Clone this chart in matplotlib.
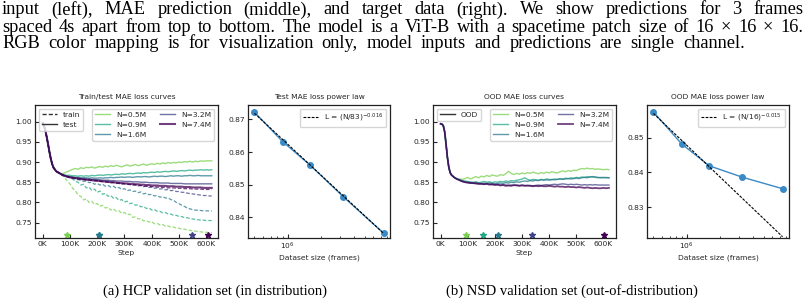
import matplotlib
matplotlib.use("Agg")
import matplotlib.pyplot as plt
import numpy as np
from matplotlib.ticker import NullFormatter, LogLocator
from matplotlib.lines import Line2D

# ---------------- data ----------------
steps_k = [0, 5, 10, 15, 20, 25, 30, 35, 40, 50, 60,
           70, 80, 90, 100, 110, 120, 130, 140, 150, 160, 170, 180, 190, 200,
           210, 220, 230, 240, 250, 260, 270, 280, 290, 300, 310, 320, 330, 340,
           350, 360, 370, 380, 390, 400, 410, 420, 430, 440, 450, 460, 470, 480,
           490, 500, 510, 520, 530, 540, 550, 560, 570, 580, 590, 600, 610, 620]

n_labels = ["N=0.5M", "N=0.9M", "N=1.6M", "N=3.2M", "N=7.4M"]
dataset_frames = [0.5e6, 0.9e6, 1.6e6, 3.2e6, 7.4e6]

early_id = [0.997, 0.990, 0.978, 0.962, 0.944, 0.925, 0.908, 0.895, 0.886, 0.877, 0.873]

test_05 = early_id + [
    0.871, 0.873, 0.876, 0.879, 0.882, 0.884, 0.882, 0.886, 0.884, 0.887, 0.886, 0.888, 0.885, 0.887,
    0.889, 0.887, 0.890, 0.888, 0.891, 0.889, 0.892, 0.890, 0.888, 0.891, 0.893, 0.890, 0.892, 0.894,
    0.891, 0.893, 0.895, 0.892, 0.894, 0.896, 0.894, 0.897, 0.895, 0.898, 0.896, 0.899, 0.897, 0.899,
    0.898, 0.900, 0.899, 0.901, 0.900, 0.902, 0.900, 0.902, 0.901, 0.903, 0.902, 0.903, 0.903, 0.903]
test_09 = early_id + [
    0.870, 0.868, 0.867, 0.867, 0.866, 0.866, 0.865, 0.866, 0.865, 0.866, 0.865, 0.867, 0.866, 0.867,
    0.868, 0.867, 0.868, 0.869, 0.868, 0.869, 0.870, 0.869, 0.871, 0.870, 0.871, 0.872, 0.871, 0.872,
    0.873, 0.872, 0.874, 0.873, 0.874, 0.875, 0.874, 0.876, 0.875, 0.876, 0.877, 0.876, 0.877, 0.878,
    0.877, 0.878, 0.879, 0.878, 0.879, 0.880, 0.879, 0.880, 0.880, 0.881, 0.880, 0.881, 0.880, 0.881]
test_16 = early_id + [
    0.869, 0.867, 0.865, 0.864, 0.863, 0.862, 0.862, 0.861, 0.861, 0.861, 0.860, 0.861, 0.860, 0.860,
    0.861, 0.860, 0.861, 0.861, 0.862, 0.861, 0.862, 0.862, 0.863, 0.862, 0.863, 0.863, 0.862, 0.863,
    0.864, 0.863, 0.864, 0.864, 0.863, 0.864, 0.865, 0.864, 0.865, 0.865, 0.864, 0.865, 0.866, 0.865,
    0.866, 0.866, 0.865, 0.866, 0.866, 0.867, 0.866, 0.866, 0.867, 0.866, 0.866, 0.866, 0.866, 0.866]
test_32 = early_id + [
    0.869, 0.866, 0.864, 0.863, 0.862, 0.861, 0.860, 0.859, 0.859, 0.858, 0.858, 0.857, 0.857, 0.856,
    0.856, 0.855, 0.855, 0.855, 0.854, 0.854, 0.853, 0.853, 0.853, 0.852, 0.852, 0.852, 0.851, 0.851,
    0.851, 0.850, 0.850, 0.850, 0.849, 0.849, 0.849, 0.849, 0.848, 0.848, 0.848, 0.848, 0.847, 0.847,
    0.847, 0.847, 0.847, 0.846, 0.846, 0.846, 0.846, 0.846, 0.846, 0.846, 0.846, 0.846, 0.846, 0.846]
test_74 = early_id + [
    0.869, 0.866, 0.864, 0.862, 0.861, 0.860, 0.859, 0.858, 0.857, 0.856, 0.856, 0.855, 0.854, 0.854,
    0.853, 0.852, 0.852, 0.851, 0.850, 0.850, 0.849, 0.848, 0.848, 0.847, 0.847, 0.846, 0.846, 0.845,
    0.845, 0.844, 0.844, 0.843, 0.843, 0.842, 0.842, 0.842, 0.841, 0.841, 0.841, 0.840, 0.840, 0.840,
    0.839, 0.839, 0.839, 0.838, 0.838, 0.838, 0.837, 0.837, 0.837, 0.837, 0.836, 0.836, 0.836, 0.836]

train_05 = early_id + [
    0.868, 0.862, 0.853, 0.846, 0.835, 0.829, 0.818, 0.815, 0.806, 0.809, 0.800, 0.803, 0.795, 0.797,
    0.790, 0.793, 0.786, 0.788, 0.781, 0.784, 0.778, 0.779, 0.773, 0.775, 0.769, 0.771, 0.763, 0.764,
    0.759, 0.760, 0.754, 0.755, 0.751, 0.752, 0.747, 0.748, 0.744, 0.745, 0.741, 0.742, 0.738, 0.739,
    0.736, 0.736, 0.733, 0.734, 0.731, 0.731, 0.729, 0.729, 0.727, 0.727, 0.726, 0.726, 0.725, 0.725]
train_09 = early_id + [
    0.869, 0.866, 0.864, 0.861, 0.858, 0.852, 0.850, 0.843, 0.845, 0.836, 0.838, 0.830, 0.833, 0.825,
    0.828, 0.820, 0.822, 0.815, 0.817, 0.810, 0.812, 0.805, 0.807, 0.801, 0.803, 0.797, 0.798, 0.793,
    0.794, 0.789, 0.790, 0.785, 0.786, 0.781, 0.782, 0.778, 0.778, 0.774, 0.775, 0.771, 0.771, 0.768,
    0.768, 0.765, 0.765, 0.762, 0.762, 0.760, 0.759, 0.758, 0.757, 0.756, 0.756, 0.755, 0.755, 0.755]
train_16 = early_id + [
    0.869, 0.866, 0.864, 0.862, 0.860, 0.858, 0.856, 0.855, 0.852, 0.853, 0.849, 0.850, 0.845, 0.847,
    0.843, 0.845, 0.840, 0.842, 0.838, 0.840, 0.835, 0.837, 0.832, 0.834, 0.829, 0.831, 0.827, 0.828,
    0.824, 0.826, 0.821, 0.823, 0.819, 0.820, 0.816, 0.817, 0.813, 0.814, 0.811, 0.811, 0.807, 0.805,
    0.800, 0.797, 0.793, 0.790, 0.786, 0.784, 0.782, 0.781, 0.780, 0.780, 0.779, 0.779, 0.779, 0.779]
train_32 = early_id + [
    0.869, 0.866, 0.864, 0.862, 0.861, 0.860, 0.859, 0.858, 0.857, 0.857, 0.856, 0.855, 0.855, 0.854,
    0.853, 0.853, 0.851, 0.852, 0.850, 0.850, 0.848, 0.849, 0.846, 0.847, 0.845, 0.845, 0.843, 0.844,
    0.841, 0.842, 0.839, 0.840, 0.837, 0.838, 0.835, 0.836, 0.833, 0.834, 0.831, 0.832, 0.829, 0.830,
    0.827, 0.827, 0.825, 0.825, 0.823, 0.822, 0.821, 0.820, 0.819, 0.818, 0.817, 0.817, 0.816, 0.816]
train_74 = early_id + [
    0.869, 0.866, 0.864, 0.862, 0.861, 0.860, 0.859, 0.858, 0.857, 0.856, 0.855, 0.855, 0.854, 0.853,
    0.852, 0.852, 0.851, 0.850, 0.849, 0.849, 0.848, 0.847, 0.846, 0.846, 0.845, 0.844, 0.844, 0.843,
    0.842, 0.842, 0.841, 0.840, 0.840, 0.839, 0.839, 0.838, 0.838, 0.837, 0.837, 0.836, 0.836, 0.836,
    0.835, 0.835, 0.835, 0.834, 0.834, 0.834, 0.833, 0.833, 0.833, 0.833, 0.832, 0.832, 0.832, 0.832]

early_ood = [0.995, 0.994, 0.990, 0.975, 0.945, 0.912, 0.888, 0.874, 0.868, 0.862, 0.858]

ood_05 = early_ood + [
    0.858, 0.857, 0.859, 0.862, 0.858, 0.861, 0.864, 0.861, 0.865, 0.863, 0.867, 0.864, 0.868, 0.866,
    0.865, 0.869, 0.867, 0.871, 0.877, 0.872, 0.869, 0.872, 0.870, 0.873, 0.871, 0.874, 0.872, 0.875,
    0.873, 0.871, 0.874, 0.872, 0.875, 0.873, 0.876, 0.874, 0.873, 0.876, 0.878, 0.876, 0.879, 0.877,
    0.880, 0.879, 0.882, 0.884, 0.883, 0.885, 0.883, 0.884, 0.882, 0.883, 0.882, 0.881, 0.882, 0.881]
ood_09 = early_ood + [
    0.856, 0.854, 0.853, 0.852, 0.851, 0.850, 0.851, 0.849, 0.850, 0.852, 0.850, 0.851, 0.849, 0.851,
    0.850, 0.852, 0.851, 0.853, 0.852, 0.854, 0.853, 0.855, 0.856, 0.858, 0.861, 0.857, 0.855, 0.857,
    0.856, 0.855, 0.857, 0.856, 0.858, 0.857, 0.856, 0.858, 0.857, 0.859, 0.858, 0.860, 0.859, 0.861,
    0.860, 0.862, 0.861, 0.863, 0.862, 0.864, 0.863, 0.863, 0.862, 0.861, 0.862, 0.861, 0.862, 0.861]
ood_16 = early_ood + [
    0.855, 0.853, 0.851, 0.850, 0.849, 0.848, 0.849, 0.848, 0.847, 0.848, 0.847, 0.848, 0.847, 0.846,
    0.847, 0.848, 0.847, 0.849, 0.848, 0.850, 0.849, 0.851, 0.850, 0.852, 0.853, 0.852, 0.854, 0.853,
    0.855, 0.854, 0.856, 0.855, 0.856, 0.855, 0.857, 0.856, 0.857, 0.858, 0.857, 0.858, 0.859, 0.858,
    0.859, 0.860, 0.859, 0.861, 0.862, 0.861, 0.863, 0.864, 0.863, 0.862, 0.861, 0.862, 0.861, 0.861]
ood_32 = early_ood + [
    0.855, 0.852, 0.850, 0.849, 0.848, 0.847, 0.847, 0.846, 0.846, 0.845, 0.846, 0.845, 0.844, 0.845,
    0.844, 0.843, 0.844, 0.843, 0.842, 0.843, 0.842, 0.843, 0.842, 0.843, 0.842, 0.841, 0.842, 0.841,
    0.842, 0.843, 0.842, 0.843, 0.844, 0.843, 0.844, 0.845, 0.844, 0.845, 0.846, 0.845, 0.844, 0.845,
    0.844, 0.845, 0.844, 0.843, 0.844, 0.843, 0.844, 0.843, 0.844, 0.843, 0.843, 0.843, 0.843, 0.843]
ood_74 = early_ood + [
    0.855, 0.852, 0.850, 0.849, 0.848, 0.848, 0.847, 0.846, 0.846, 0.845, 0.846, 0.844, 0.845, 0.843,
    0.844, 0.842, 0.843, 0.841, 0.842, 0.841, 0.843, 0.842, 0.841, 0.842, 0.841, 0.842, 0.841, 0.840,
    0.841, 0.840, 0.841, 0.840, 0.840, 0.841, 0.840, 0.839, 0.840, 0.839, 0.839, 0.838, 0.839, 0.838,
    0.838, 0.837, 0.838, 0.837, 0.836, 0.837, 0.836, 0.835, 0.836, 0.835, 0.835, 0.836, 0.835, 0.836]

best_step_id_k = [91, 206, 206, 549, 606]
best_step_ood_k = [93, 155, 212, 337, 600]

final_test = [0.8722, 0.8632, 0.8560, 0.8463, 0.8352]
final_ood = [0.8574, 0.8482, 0.8419, 0.8386, 0.8353]
ood_fit_points = 3

xtick_vals_k = [0, 100, 200, 300, 400, 500, 600]
xtick_labels = ["0K", "100K", "200K", "300K", "400K", "500K", "600K"]

titles = ["Train/test MAE loss curves", "Test MAE loss power law",
          "OOD MAE loss curves", "OOD MAE loss power law"]
fit_labels = [r"L = (N/83)$^{-0.016}$", r"L = (N/16)$^{-0.015}$"]

top_lines = [
    "input (left), MAE prediction (middle), and target data (right).  We show predictions for 3 frames",
    "spaced 4s apart from top to bottom. The model is a ViT-B with a spacetime patch size of 16 \u00d7 16 \u00d7 16.",
    "RGB color mapping is for visualization only, model inputs and predictions are single channel.",
]
captions = ["(a) HCP validation set (in distribution)",
            "(b) NSD validation set (out-of-distribution)"]

# ---------------- style ----------------
W, H = 807, 307
plt.rcParams['font.family'] = ['DejaVu Sans']
plt.rcParams['mathtext.fontset'] = 'dejavusans'
FS = 5.4
TXT = '#262626'
fig = plt.figure(figsize=(W / 100, H / 100), dpi=100)

cmap = plt.get_cmap('viridis')
colors = [cmap(v) for v in [0.8, 0.6, 0.4, 0.2, 0.0]]
ALPHA = 0.75

def px_axes(l, r, t, b):
    return fig.add_axes([l / W, 1 - b / H, (r - l) / W, (b - t) / H])

def style(ax):
    ax.tick_params(which='both', direction='in', labelsize=FS, colors=TXT, pad=2)
    ax.tick_params(which='major', length=3, width=0.8)
    ax.tick_params(which='minor', length=1.8, width=0.6)
    for s in ax.spines.values():
        s.set_linewidth(0.9)
        s.set_color('#222222')

ax1 = px_axes(35, 218, 105, 238)
ax2 = px_axes(248, 390, 105, 238)
ax3 = px_axes(433, 616, 105, 238)
ax4 = px_axes(647, 789, 105, 238)

steps = np.array(steps_k)
tests = [test_05, test_09, test_16, test_32, test_74]
trains = [train_05, train_09, train_16, train_32, train_74]
oods = [ood_05, ood_09, ood_16, ood_32, ood_74]
STAR_Y = 0.72

# panel 1
handles = []
for i in range(5):
    lw = 1.5 if i == 4 else 1.0
    ax1.plot(steps, trains[i], '--', color=colors[i], lw=0.9, alpha=ALPHA, dashes=(3, 1.5))
    h, = ax1.plot(steps, tests[i], '-', color=colors[i], lw=lw, alpha=ALPHA, label=n_labels[i])
    handles.append(h)
    ax1.plot([best_step_id_k[i]], [STAR_Y], marker='*', ms=5, color=colors[i], ls='none')
# panel 3
handles3 = []
for i in range(5):
    lw = 1.3 if i == 4 else 1.0
    h, = ax3.plot(steps, oods[i], '-', color=colors[i], lw=lw, alpha=ALPHA, label=n_labels[i])
    handles3.append(h)
    ax3.plot([best_step_ood_k[i]], [STAR_Y], marker='*', ms=5, color=colors[i], ls='none')

for ax, hs, typelabels in [(ax1, handles, [('--', 'train'), ('-', 'test')]),
                           (ax3, handles3, [('-', 'OOD')])]:
    ax.set_xlim(-28, 643 if ax is ax1 else 646)
    ax.set_ylim(0.7117, 1.0415)
    ax.set_yticks([0.75, 0.80, 0.85, 0.90, 0.95, 1.00])
    ax.set_yticklabels(["0.75", "0.80", "0.85", "0.90", "0.95", "1.00"])
    ax.set_xticks(xtick_vals_k)
    ax.set_xticklabels(xtick_labels)
    ax.set_xlabel("Step", fontsize=FS, color=TXT, labelpad=2)
    style(ax)
    tl = [Line2D([], [], color='#333333', ls=ls, lw=1.0,
                 dashes=(3, 1.5) if ls == '--' else (None, None)) for ls, _ in typelabels]
    leg1 = ax.legend(tl, [t for _, t in typelabels], loc='upper left', fontsize=FS,
                     handlelength=2.0, borderaxespad=0.5, handletextpad=0.8, labelcolor=TXT)
    ax.add_artist(leg1)
    ax.legend(handles=hs, loc='upper right', ncol=2, fontsize=FS, handlelength=2.0,
              borderaxespad=0.5, columnspacing=1.8, handletextpad=0.8, labelcolor=TXT)

ax1.set_title(titles[0], fontsize=FS, color=TXT, pad=4)
ax3.set_title(titles[2], fontsize=FS, color=TXT, pad=4)

# power-law panels
N = np.array(dataset_frames)
for ax, vals, npts, lab, title, ylim, yt in [
        (ax2, final_test, 5, fit_labels[0], titles[1], (0.8337, 0.8744), [0.84, 0.85, 0.86, 0.87]),
        (ax4, final_ood, ood_fit_points, fit_labels[1], titles[3], (0.8211, 0.8594), [0.83, 0.84, 0.85])]:
    v = np.array(vals)
    ax.plot(N, v, '-o', color='#3a8ac6', lw=1.0, ms=4)
    slope, icpt = np.polyfit(np.log(N[:npts]), np.log(v[:npts]), 1)
    nn = np.array([N[0], N[-1]])
    ax.plot(nn, np.exp(icpt) * nn ** slope, color='k', lw=0.8, ls=(0, (2.5, 1.2)), label=lab)
    ax.set_xscale('log')
    ax.set_ylim(*ylim)
    ax.set_yticks(yt)
    ax.set_yticklabels(["%.2f" % t for t in yt])
    ax.xaxis.set_major_locator(LogLocator(base=10))
    ax.xaxis.set_minor_locator(LogLocator(base=10, subs=np.arange(2, 10)))
    ax.xaxis.set_minor_formatter(NullFormatter())
    ax.set_xlabel("Dataset size (frames)", fontsize=FS, color=TXT, labelpad=2)
    ax.set_title(title, fontsize=FS, color=TXT, pad=4)
    style(ax)
    ax.legend(loc='upper right', fontsize=FS, handlelength=2.0, borderaxespad=0.5, labelcolor=TXT)

# ---------------- text ----------------
SERIF = ['Liberation Serif', 'DejaVu Serif']
TFS = 13.2
CFS = 10.5
renderer = fig.canvas.get_renderer()

def justify(line, ycenter, x0, x1):
    words = line.split()
    objs, widths = [], []
    for w in words:
        t = fig.text(0, 1 - ycenter / H, w, fontsize=TFS, family=SERIF, va='center', ha='left')
        widths.append(t.get_window_extent(renderer).width)
        objs.append(t)
    gap = (x1 - x0 - sum(widths)) / (len(words) - 1)
    x = x0
    for t, wd in zip(objs, widths):
        t.set_x(x / W)
        x += wd + gap

justify(top_lines[0], 10, 2, 803)
justify(top_lines[1], 27, 2, 803)
justify(top_lines[2], 44, 2, 745)

fig.text(215 / W, 1 - 291 / H, captions[0], fontsize=CFS, family=SERIF, va='center', ha='center')
fig.text(572 / W, 1 - 291 / H, captions[1], fontsize=CFS, family=SERIF, va='center', ha='center')

fig.savefig("out.png", dpi=100)
